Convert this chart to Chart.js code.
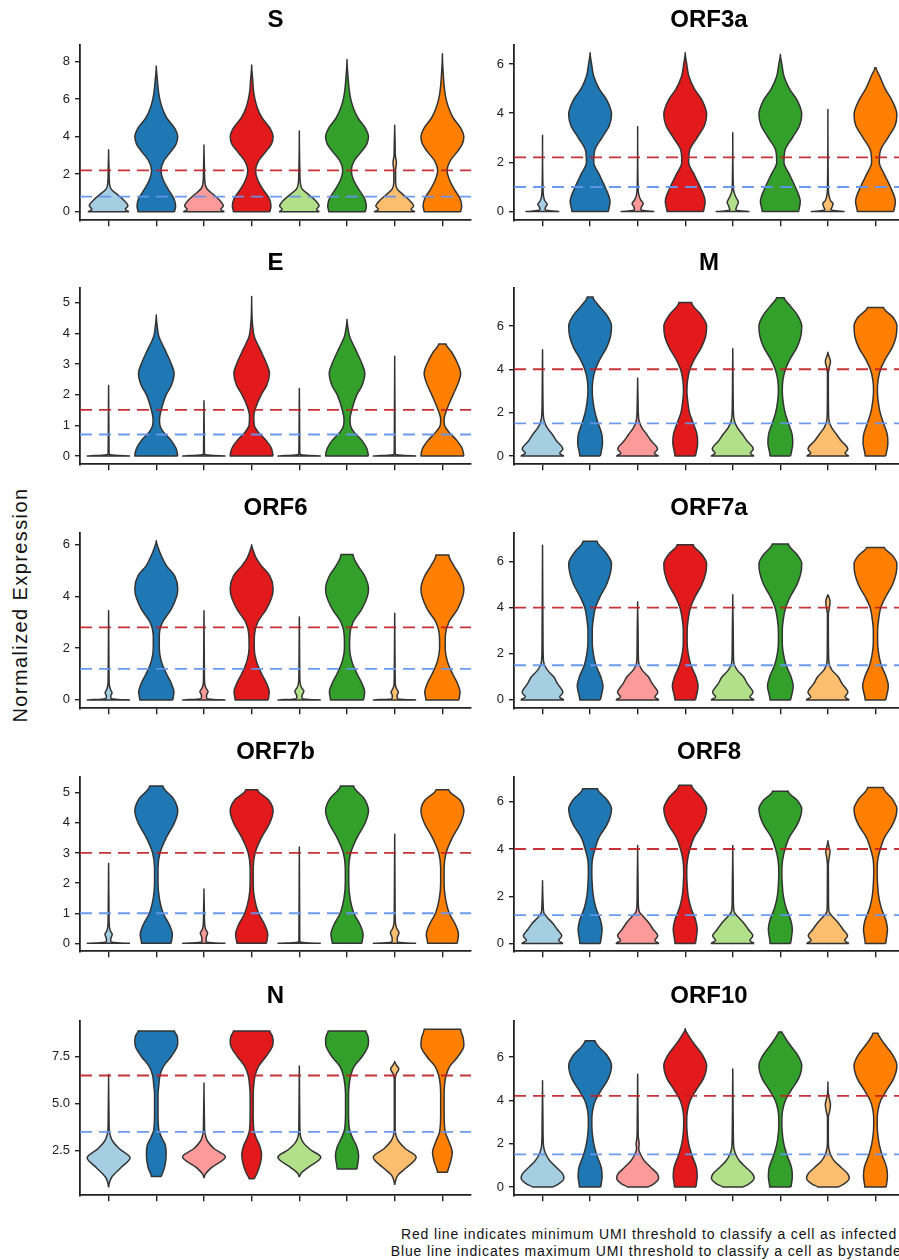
<!DOCTYPE html>
<html>
<head>
<meta charset="utf-8">
<title>Viral gene expression violins</title>
<script src="https://cdn.jsdelivr.net/npm/chart.js@4.4.1/dist/chart.umd.min.js"></script>
<style>
  body { margin: 0; width: 899px; height: 1260px; overflow: hidden; background: #fff; position: relative;
         font-family: "Liberation Sans", Arial, sans-serif; }
  canvas { position: absolute; }
  #ylab { position: absolute; left: 20px; top: 605px; transform: translate(-50%, -50%) rotate(-90deg);
          white-space: nowrap; font-size: 20px; letter-spacing: 1.4px; color: #111; }
  #note { position: absolute; left: 149px; width: 1000px; top: 1226px; text-align: center;
          font-size: 14px; line-height: 16.5px; letter-spacing: 0.85px; color: #111; white-space: nowrap; }
</style>
</head>
<body>
<div id="ylab">Normalized Expression</div>
<div id="note">Red line indicates minimum UMI threshold to classify a cell as infected<br>Blue line indicates maximum UMI threshold to classify a cell as bystander</div>
<script>
var genes = ['S', 'ORF3a', 'E', 'M', 'ORF6', 'ORF7a', 'ORF7b', 'ORF8', 'N', 'ORF10'];
var groupColors = ['#a6cee3', '#1f78b4', '#fb9a99', '#e31a1c', '#b2df8a', '#33a02c', '#fdbf6f', '#ff7f00'];
var yLimits = [[-0.45, 8.87], [-0.35, 6.77], [-0.27, 5.48], [-0.38, 7.75], [-0.32, 6.45],
               [-0.36, 7.23], [-0.26, 5.52], [-0.33, 7.05], [0.13, 9.4], [-0.38, 7.66]];
var yTicks = [['0', '2', '4', '6', '8'], ['0', '2', '4', '6'], ['0', '1', '2', '3', '4', '5'], ['0', '2', '4', '6'],
              ['0', '2', '4', '6'], ['0', '2', '4', '6'], ['0', '1', '2', '3', '4', '5'], ['0', '2', '4', '6'],
              ['2.5', '5.0', '7.5'], ['0', '2', '4', '6']];
var redLine = [2.2, 2.2, 1.5, 4, 2.8, 4, 3, 4, 6.5, 4.2];
var blueLine = [0.8, 1.0, 0.7, 1.5, 1.2, 1.5, 1, 1.2, 3.5, 1.5];

// violin outlines: [value, relative half width] from bottom to top, one list per group
var violinS = [
  [[0,0.95],[0.12,0.78],[0.32,0.9],[0.6,0.72],[0.9,0.42],[1.2,0.12],[1.5,0.04],[2.2,0.02],[3.3,0]],
  [[0,0.85],[0.3,0.9],[0.7,0.82],[1.2,0.55],[1.7,0.32],[2.2,0.22],[2.7,0.35],[3.2,0.68],[3.6,0.92],[4.0,1.0],[4.4,0.88],[5.0,0.48],[5.5,0.28],[6.0,0.16],[6.5,0.09],[7.0,0.05],[7.75,0]],
  [[0,0.95],[0.12,0.78],[0.3,0.9],[0.6,0.74],[0.9,0.45],[1.25,0.12],[1.6,0.04],[2.3,0.02],[3.55,0]],
  [[0,0.85],[0.3,0.9],[0.7,0.82],[1.2,0.52],[1.7,0.28],[2.2,0.18],[2.7,0.32],[3.2,0.66],[3.6,0.92],[4.0,1.0],[4.4,0.88],[5.0,0.48],[5.5,0.27],[6.0,0.15],[6.5,0.08],[7.0,0.05],[7.8,0]],
  [[0,0.93],[0.12,0.8],[0.3,0.92],[0.6,0.75],[0.9,0.45],[1.2,0.14],[1.5,0.05],[2.3,0.02],[4.3,0]],
  [[0,0.85],[0.3,0.9],[0.7,0.82],[1.2,0.54],[1.7,0.3],[2.2,0.2],[2.7,0.33],[3.2,0.67],[3.6,0.92],[4.0,1.0],[4.4,0.88],[5.0,0.5],[5.5,0.3],[6.0,0.17],[6.5,0.1],[7.0,0.06],[8.1,0]],
  [[0,0.95],[0.12,0.76],[0.3,0.88],[0.6,0.7],[0.9,0.4],[1.2,0.12],[1.6,0.04],[2.2,0.04],[2.6,0.08],[3.0,0.03],[3.6,0.02],[4.6,0]],
  [[0,0.85],[0.3,0.9],[0.7,0.82],[1.2,0.55],[1.7,0.33],[2.2,0.22],[2.7,0.36],[3.2,0.7],[3.6,0.93],[4.0,1.0],[4.4,0.88],[5.0,0.5],[5.5,0.3],[6.0,0.17],[6.5,0.1],[7.0,0.06],[8.4,0]]
];
var violinORF3a = [
  [[0,0.78],[0.03,0.35],[0.08,0.12],[0.18,0.14],[0.3,0.22],[0.42,0.12],[0.6,0.05],[1.0,0.02],[3.1,0]],
  [[0,0.85],[0.4,0.93],[1.0,0.7],[1.5,0.43],[2.0,0.17],[2.5,0.22],[3.0,0.55],[3.5,0.9],[3.95,1.0],[4.5,0.8],[5.0,0.42],[5.5,0.17],[6.0,0.07],[6.45,0]],
  [[0,0.78],[0.03,0.35],[0.08,0.15],[0.2,0.18],[0.33,0.26],[0.48,0.14],[0.7,0.05],[1.0,0.02],[3.45,0]],
  [[0,0.85],[0.4,0.93],[1.0,0.7],[1.5,0.42],[2.0,0.16],[2.5,0.21],[3.0,0.55],[3.5,0.9],[3.95,1.0],[4.5,0.8],[5.0,0.42],[5.5,0.17],[6.0,0.07],[6.45,0]],
  [[0,0.78],[0.03,0.3],[0.08,0.14],[0.2,0.18],[0.38,0.26],[0.6,0.14],[0.85,0.04],[1.2,0.02],[3.2,0]],
  [[0,0.85],[0.4,0.93],[1.0,0.7],[1.5,0.43],[2.0,0.17],[2.5,0.22],[3.0,0.56],[3.5,0.9],[3.95,1.0],[4.5,0.8],[5.0,0.42],[5.5,0.17],[6.0,0.07],[6.38,0]],
  [[0,0.78],[0.03,0.35],[0.08,0.14],[0.2,0.2],[0.32,0.24],[0.45,0.12],[0.7,0.04],[1.0,0.02],[4.15,0]],
  [[0,0.85],[0.4,0.93],[1.0,0.7],[1.5,0.42],[2.0,0.18],[2.5,0.24],[3.0,0.58],[3.5,0.92],[3.95,1.0],[4.5,0.78],[5.0,0.45],[5.5,0.2],[5.85,0.03]]
];
var violinE = [
  [[0,1.0],[0.02,0.3],[0.05,0.03],[0.2,0.02],[2.3,0]],
  [[0,1.0],[0.25,0.92],[0.5,0.7],[0.8,0.31],[1.0,0.17],[1.2,0.15],[1.5,0.23],[2.0,0.46],[2.3,0.7],[2.7,0.83],[3.0,0.7],[3.5,0.38],[3.9,0.12],[4.2,0.05],[4.6,0]],
  [[0,1.0],[0.02,0.3],[0.05,0.03],[0.2,0.02],[1.8,0]],
  [[0,1.0],[0.25,0.92],[0.5,0.68],[0.8,0.28],[1.0,0.12],[1.3,0.1],[1.6,0.2],[2.0,0.45],[2.3,0.7],[2.7,0.83],[3.0,0.7],[3.5,0.38],[3.9,0.12],[4.3,0.04],[5.2,0]],
  [[0,1.0],[0.02,0.3],[0.05,0.03],[0.2,0.02],[2.2,0]],
  [[0,1.0],[0.25,0.92],[0.5,0.7],[0.8,0.3],[1.0,0.16],[1.2,0.14],[1.5,0.22],[2.0,0.46],[2.3,0.7],[2.7,0.83],[3.0,0.7],[3.5,0.38],[3.9,0.12],[4.15,0.05],[4.45,0]],
  [[0,1.0],[0.02,0.3],[0.05,0.03],[0.2,0.02],[3.25,0]],
  [[0,1.0],[0.25,0.92],[0.5,0.68],[0.8,0.28],[1.0,0.1],[1.2,0.08],[1.5,0.2],[2.0,0.5],[2.4,0.75],[2.7,0.85],[3.0,0.72],[3.4,0.42],[3.65,0.17]]
];
var violinM = [
  [[0,1.0],[0.12,0.8],[0.32,0.95],[0.7,0.65],[1.0,0.45],[1.3,0.22],[1.6,0.08],[2.0,0.03],[2.5,0.02],[4.9,0]],
  [[0,0.48],[0.6,0.58],[1.0,0.55],[1.5,0.38],[2.0,0.23],[2.5,0.14],[3.0,0.1],[3.5,0.13],[4.0,0.25],[4.5,0.48],[5.0,0.77],[5.5,0.95],[6.0,1.0],[6.5,0.78],[7.0,0.35],[7.34,0.14]],
  [[0,0.98],[0.12,0.78],[0.32,0.93],[0.7,0.63],[1.0,0.42],[1.3,0.2],[1.6,0.07],[2.0,0.03],[2.5,0.02],[3.6,0]],
  [[0,0.48],[0.6,0.58],[1.0,0.55],[1.5,0.38],[2.0,0.2],[2.5,0.12],[3.0,0.08],[3.5,0.11],[4.0,0.22],[4.5,0.45],[5.0,0.75],[5.5,0.95],[6.0,1.0],[6.5,0.75],[7.08,0.3]],
  [[0,1.0],[0.12,0.82],[0.32,0.96],[0.7,0.66],[1.0,0.45],[1.3,0.22],[1.6,0.08],[2.0,0.03],[2.5,0.02],[4.95,0]],
  [[0,0.48],[0.6,0.58],[1.0,0.55],[1.5,0.38],[2.0,0.22],[2.5,0.13],[3.0,0.09],[3.5,0.12],[4.0,0.24],[4.5,0.47],[5.0,0.77],[5.5,0.95],[6.0,1.0],[6.5,0.8],[7.0,0.4],[7.3,0.18]],
  [[0,0.98],[0.12,0.8],[0.32,0.93],[0.7,0.62],[1.0,0.4],[1.3,0.18],[1.6,0.06],[2.0,0.03],[3.8,0.02],[4.1,0.06],[4.35,0.12],[4.6,0.05],[4.78,0]],
  [[0,0.48],[0.6,0.58],[1.0,0.55],[1.5,0.38],[2.0,0.22],[2.5,0.13],[3.0,0.09],[3.5,0.12],[4.0,0.24],[4.5,0.48],[5.0,0.78],[5.5,0.96],[6.0,1.0],[6.4,0.82],[6.85,0.38]]
];
var violinORF6 = [
  [[0,1.0],[0.02,0.45],[0.06,0.12],[0.15,0.1],[0.28,0.16],[0.4,0.09],[0.6,0.03],[1.0,0.02],[3.45,0]],
  [[0,0.77],[0.3,0.82],[0.7,0.67],[1.0,0.48],[1.5,0.23],[2.0,0.14],[2.5,0.14],[3.0,0.29],[3.5,0.69],[4.0,0.95],[4.3,1.0],[4.8,0.85],[5.2,0.46],[5.6,0.22],[5.9,0.08],[6.15,0]],
  [[0,1.0],[0.02,0.45],[0.06,0.12],[0.18,0.12],[0.33,0.19],[0.46,0.09],[0.65,0.03],[1.0,0.02],[3.45,0]],
  [[0,0.77],[0.3,0.82],[0.7,0.66],[1.0,0.47],[1.5,0.22],[2.0,0.12],[2.5,0.13],[3.0,0.28],[3.5,0.68],[4.0,0.95],[4.3,1.0],[4.8,0.84],[5.2,0.44],[5.5,0.2],[5.8,0.06],[6.0,0]],
  [[0,1.0],[0.02,0.45],[0.06,0.12],[0.18,0.13],[0.34,0.21],[0.48,0.1],[0.7,0.03],[1.0,0.02],[3.2,0]],
  [[0,0.77],[0.3,0.82],[0.7,0.66],[1.0,0.47],[1.5,0.22],[2.0,0.12],[2.5,0.13],[3.0,0.28],[3.5,0.68],[4.0,0.95],[4.3,1.0],[4.8,0.82],[5.2,0.5],[5.62,0.28]],
  [[0,1.0],[0.02,0.45],[0.06,0.12],[0.16,0.11],[0.3,0.17],[0.42,0.09],[0.6,0.03],[1.0,0.02],[3.35,0]],
  [[0,0.77],[0.3,0.82],[0.7,0.67],[1.0,0.48],[1.5,0.23],[2.0,0.13],[2.5,0.14],[3.0,0.3],[3.5,0.7],[4.0,0.95],[4.3,1.0],[4.8,0.82],[5.2,0.52],[5.6,0.3]]
];
var violinORF7a = [
  [[0,1.0],[0.12,0.8],[0.32,0.95],[0.7,0.7],[1.0,0.52],[1.3,0.22],[1.6,0.06],[2.0,0.03],[3.0,0.02],[6.7,0]],
  [[0,0.48],[0.6,0.6],[1.0,0.5],[1.5,0.27],[2.0,0.15],[2.5,0.1],[3.0,0.1],[3.5,0.15],[4.0,0.25],[4.5,0.48],[5.0,0.77],[5.5,0.95],[5.9,1.0],[6.4,0.72],[6.87,0.33]],
  [[0,1.0],[0.12,0.8],[0.32,0.94],[0.7,0.68],[1.0,0.5],[1.3,0.2],[1.6,0.05],[2.0,0.03],[3.0,0.02],[4.25,0]],
  [[0,0.48],[0.6,0.6],[1.0,0.5],[1.5,0.27],[2.0,0.14],[2.5,0.09],[3.0,0.09],[3.5,0.14],[4.0,0.25],[4.5,0.48],[5.0,0.78],[5.5,0.96],[5.9,1.0],[6.3,0.78],[6.72,0.38]],
  [[0,1.0],[0.12,0.8],[0.32,0.94],[0.7,0.68],[1.0,0.5],[1.3,0.2],[1.6,0.05],[2.0,0.03],[3.0,0.02],[4.55,0]],
  [[0,0.48],[0.6,0.6],[1.0,0.5],[1.5,0.27],[2.0,0.14],[2.5,0.09],[3.0,0.09],[3.5,0.14],[4.0,0.25],[4.5,0.48],[5.0,0.78],[5.5,0.96],[5.9,1.0],[6.3,0.78],[6.75,0.38]],
  [[0,1.0],[0.12,0.8],[0.32,0.93],[0.7,0.66],[1.0,0.48],[1.3,0.18],[1.6,0.05],[2.0,0.03],[3.7,0.02],[4.0,0.07],[4.25,0.1],[4.45,0.05],[4.55,0]],
  [[0,0.48],[0.6,0.6],[1.0,0.5],[1.5,0.27],[2.0,0.15],[2.5,0.1],[3.0,0.1],[3.5,0.15],[4.0,0.25],[4.5,0.5],[5.0,0.8],[5.5,0.97],[5.9,1.0],[6.25,0.8],[6.6,0.42]]
];
var violinORF7b = [
  [[0,1.0],[0.02,0.4],[0.06,0.1],[0.15,0.1],[0.3,0.17],[0.42,0.08],[0.6,0.03],[1.0,0.02],[2.65,0]],
  [[0,0.69],[0.3,0.75],[0.6,0.62],[1.0,0.32],[1.5,0.14],[2.0,0.08],[2.5,0.08],[3.0,0.17],[3.5,0.46],[4.0,0.85],[4.4,1.0],[4.8,0.8],[5.22,0.31]],
  [[0,1.0],[0.02,0.4],[0.06,0.1],[0.18,0.1],[0.34,0.17],[0.46,0.08],[0.65,0.03],[1.0,0.02],[1.8,0]],
  [[0,0.69],[0.3,0.75],[0.6,0.62],[1.0,0.32],[1.5,0.13],[2.0,0.07],[2.5,0.07],[3.0,0.16],[3.5,0.45],[4.0,0.85],[4.4,1.0],[4.75,0.8],[5.1,0.28]],
  [[0,1.0],[0.02,0.3],[0.05,0.03],[0.2,0.02],[3.2,0]],
  [[0,0.69],[0.3,0.75],[0.6,0.62],[1.0,0.32],[1.5,0.14],[2.0,0.08],[2.5,0.08],[3.0,0.17],[3.5,0.46],[4.0,0.85],[4.4,1.0],[4.8,0.8],[5.22,0.31]],
  [[0,1.0],[0.02,0.4],[0.06,0.12],[0.18,0.12],[0.35,0.2],[0.5,0.09],[0.7,0.03],[1.0,0.02],[3.62,0]],
  [[0,0.69],[0.3,0.75],[0.6,0.62],[1.0,0.32],[1.5,0.14],[2.0,0.08],[2.5,0.08],[3.0,0.17],[3.5,0.46],[4.0,0.85],[4.4,1.0],[4.75,0.82],[5.1,0.3]]
];
var violinORF8 = [
  [[0,0.96],[0.12,0.75],[0.32,0.9],[0.6,0.68],[0.85,0.48],[1.1,0.22],[1.3,0.06],[1.6,0.03],[2.65,0]],
  [[0,0.48],[0.6,0.56],[1.0,0.48],[1.5,0.27],[2.0,0.15],[2.5,0.1],[3.0,0.08],[3.5,0.1],[4.0,0.23],[4.5,0.42],[5.0,0.77],[5.4,0.95],[5.7,1.0],[6.1,0.78],[6.55,0.35]],
  [[0,1.0],[0.12,0.8],[0.32,0.94],[0.6,0.72],[0.9,0.5],[1.15,0.25],[1.35,0.07],[1.7,0.03],[2.5,0.02],[4.15,0]],
  [[0,0.48],[0.6,0.56],[1.0,0.48],[1.5,0.27],[2.0,0.14],[2.5,0.09],[3.0,0.07],[3.5,0.1],[4.0,0.22],[4.5,0.42],[5.0,0.77],[5.4,0.95],[5.7,1.0],[6.15,0.78],[6.7,0.3]],
  [[0,1.0],[0.12,0.8],[0.32,0.94],[0.6,0.72],[0.9,0.48],[1.15,0.22],[1.35,0.06],[1.7,0.03],[2.5,0.02],[4.15,0]],
  [[0,0.48],[0.6,0.56],[1.0,0.48],[1.5,0.27],[2.0,0.14],[2.5,0.09],[3.0,0.07],[3.5,0.1],[4.0,0.22],[4.5,0.42],[5.0,0.77],[5.4,0.95],[5.7,1.0],[6.05,0.8],[6.45,0.37]],
  [[0,0.98],[0.12,0.78],[0.32,0.92],[0.6,0.7],[0.9,0.46],[1.15,0.2],[1.35,0.05],[1.7,0.03],[3.3,0.02],[3.65,0.06],[3.9,0.1],[4.1,0.05],[4.35,0]],
  [[0,0.48],[0.6,0.56],[1.0,0.48],[1.5,0.27],[2.0,0.15],[2.5,0.1],[3.0,0.08],[3.5,0.1],[4.0,0.23],[4.5,0.43],[5.0,0.78],[5.4,0.96],[5.7,1.0],[6.1,0.8],[6.6,0.37]]
];
var violinN = [
  [[0.55,0],[0.8,0.04],[1.1,0.15],[1.6,0.58],[2.12,1.0],[2.6,0.5],[3.0,0.19],[3.3,0.08],[3.6,0.03],[4.2,0.02],[6.55,0]],
  [[1.12,0.23],[1.6,0.38],[2.3,0.46],[2.8,0.42],[3.2,0.25],[3.6,0.12],[4.5,0.08],[5.5,0.08],[6.0,0.12],[6.5,0.17],[7.0,0.34],[7.5,0.69],[8.0,0.96],[8.3,1.0],[8.6,0.97],[8.87,0.85]],
  [[1.05,0],[1.25,0.06],[1.6,0.35],[2.18,1.0],[2.6,0.48],[3.0,0.17],[3.3,0.07],[3.6,0.03],[4.2,0.02],[6.1,0]],
  [[1.0,0.12],[1.3,0.25],[1.8,0.4],[2.3,0.46],[2.8,0.36],[3.2,0.2],[3.6,0.1],[4.5,0.07],[5.5,0.07],[6.0,0.1],[6.5,0.16],[7.0,0.33],[7.5,0.66],[8.0,0.95],[8.3,1.0],[8.6,0.96],[8.87,0.85]],
  [[1.1,0],[1.3,0.08],[1.6,0.4],[2.15,1.0],[2.55,0.52],[2.9,0.2],[3.2,0.07],[3.5,0.03],[4.2,0.02],[7.0,0]],
  [[1.52,0.46],[2.2,0.54],[2.7,0.46],[3.2,0.25],[3.6,0.12],[4.5,0.07],[5.5,0.07],[6.0,0.1],[6.5,0.17],[7.0,0.34],[7.5,0.7],[8.0,0.96],[8.3,1.0],[8.6,0.97],[8.87,0.88]],
  [[0.68,0],[0.9,0.04],[1.2,0.15],[1.6,0.55],[2.15,1.0],[2.6,0.5],[3.0,0.18],[3.3,0.06],[3.7,0.02],[6.3,0.02],[6.6,0.08],[6.85,0.19],[7.05,0.08],[7.25,0]],
  [[1.35,0.23],[1.9,0.38],[2.4,0.46],[3.0,0.3],[3.5,0.13],[4.5,0.08],[5.5,0.08],[6.0,0.1],[6.5,0.17],[7.0,0.35],[7.5,0.72],[8.1,1.0],[8.5,0.97],[8.96,0.85]]
];
var violinORF10 = [
  [[0,0.48],[0.12,0.72],[0.4,1.0],[0.6,0.94],[0.9,0.65],[1.2,0.35],[1.5,0.16],[1.8,0.06],[2.2,0.03],[3.0,0.02],[4.9,0]],
  [[0,0.5],[0.5,0.56],[0.9,0.52],[1.5,0.3],[2.0,0.17],[2.5,0.1],[3.0,0.08],[3.5,0.11],[4.0,0.25],[4.5,0.54],[5.0,0.85],[5.6,1.0],[6.1,0.77],[6.5,0.38],[6.75,0.23]],
  [[0,0.48],[0.12,0.72],[0.4,0.98],[0.6,0.92],[0.9,0.62],[1.2,0.32],[1.5,0.14],[1.75,0.05],[2.0,0.07],[2.3,0.03],[3.0,0.02],[5.2,0]],
  [[0,0.5],[0.5,0.56],[0.9,0.52],[1.5,0.3],[2.0,0.16],[2.5,0.09],[3.0,0.07],[3.5,0.1],[4.0,0.24],[4.5,0.53],[5.0,0.85],[5.6,1.0],[6.1,0.8],[6.6,0.42],[7.0,0.15],[7.3,0]],
  [[0,0.48],[0.12,0.72],[0.4,1.0],[0.6,0.93],[0.9,0.62],[1.2,0.32],[1.5,0.14],[1.8,0.05],[2.2,0.03],[3.0,0.02],[5.45,0]],
  [[0,0.5],[0.5,0.56],[0.9,0.52],[1.5,0.3],[2.0,0.16],[2.5,0.09],[3.0,0.07],[3.5,0.1],[4.0,0.24],[4.5,0.53],[5.0,0.85],[5.6,1.0],[6.1,0.8],[6.6,0.42],[7.0,0.16],[7.15,0.08]],
  [[0,0.48],[0.12,0.72],[0.4,1.0],[0.6,0.93],[0.9,0.62],[1.2,0.3],[1.5,0.12],[1.8,0.04],[2.2,0.02],[3.2,0.02],[3.5,0.08],[3.8,0.12],[4.1,0.06],[4.3,0.02],[4.85,0]],
  [[0,0.5],[0.5,0.56],[0.9,0.52],[1.5,0.3],[2.0,0.17],[2.5,0.1],[3.0,0.08],[3.5,0.11],[4.0,0.25],[4.5,0.54],[5.0,0.85],[5.6,1.0],[6.1,0.8],[6.6,0.42],[6.95,0.18],[7.1,0.12]]
];
var violins = [violinS, violinORF3a, violinE, violinM, violinORF6, violinORF7a, violinORF7b, violinORF8, violinN, violinORF10];

Chart.defaults.font.family = '"Liberation Sans", Arial, sans-serif';
Chart.defaults.color = '#222';

var HALF = 0.45;            // half of the violin width, in category units
var XMIN = -0.6, XMAX = 7.6;
var axisTop = [45, 288, 533, 777, 1021];
var axisBottom = [223, 467, 711, 954, 1198];

// outline of one violin: up the right side, down the left side, back to start
function outline(knots, center) {
  var right = knots.map(function (k) { return {x: center + k[1] * HALF, y: k[0]}; });
  var left = knots.slice().reverse().map(function (k) { return {x: center - k[1] * HALF, y: k[0]}; });
  if (knots[knots.length - 1][1] === 0) left.shift();
  var pts = right.concat(left);
  if (knots[0][1] !== 0) pts.push({x: right[0].x, y: right[0].y});
  return pts;
}

function makePanel(p) {
  var row = Math.floor(p / 2), col = p % 2;
  var canvas = document.createElement('canvas');
  var left = col === 0 ? 0 : 450;
  var width = col === 0 ? 472 : 455;
  var top = axisTop[row] - 40;
  var height = 40 + (axisBottom[row] - axisTop[row]) + 10;
  canvas.width = width;
  canvas.height = height;
  canvas.style.left = left + 'px';
  canvas.style.top = top + 'px';
  document.body.appendChild(canvas);

  var datasets = [];
  datasets.push({
    data: [{x: XMIN, y: redLine[p]}, {x: XMAX, y: redLine[p]}],
    borderColor: 'rgba(192, 30, 36, 0.9)', borderWidth: 1.8, borderDash: [12, 7],
    pointRadius: 0, fill: false, order: 0
  });
  datasets.push({
    data: [{x: XMIN, y: blueLine[p]}, {x: XMAX, y: blueLine[p]}],
    borderColor: 'rgba(100, 149, 237, 0.95)', borderWidth: 1.8, borderDash: [12, 7],
    pointRadius: 0, fill: false, order: 0
  });
  violins[p].forEach(function (knots, g) {
    datasets.push({
      data: outline(knots, g),
      indexAxis: 'y',
      cubicInterpolationMode: 'monotone',
      backgroundColor: groupColors[g],
      borderColor: '#333',
      borderWidth: 1.5,
      borderJoinStyle: 'round',
      fill: 'shape',
      pointRadius: 0,
      order: 1
    });
  });

  var yLabelWidth = col === 0 ? 80 : 64;
  new Chart(canvas, {
    type: 'line',
    data: {datasets: datasets},
    options: {
      responsive: false,
      animation: false,
      events: [],
      layout: {padding: {left: 0, right: 1, top: 0, bottom: 0}},
      plugins: {
        legend: {display: false},
        tooltip: {enabled: false},
        title: {
          display: true, text: genes[p], fullSize: false, color: '#000',
          font: {size: 24, weight: 'bold', lineHeight: 1.2},
          padding: {top: 1.1, bottom: 10.1}
        }
      },
      scales: {
        x: {
          type: 'linear', min: XMIN, max: XMAX,
          afterBuildTicks: function (scale) {
            scale.ticks = groupColors.map(function (c, i) { return {value: i}; });
          },
          afterFit: function (scale) { scale.height = 10; },
          ticks: {callback: function () { return ''; }},
          grid: {drawOnChartArea: false, drawTicks: true, tickLength: 6, color: '#222', lineWidth: 1.4},
          border: {display: true, color: '#222', width: 1.8}
        },
        y: {
          type: 'linear', min: yLimits[p][0], max: yLimits[p][1],
          afterBuildTicks: function (scale) {
            scale.ticks = yTicks[p].map(function (s) { return {value: parseFloat(s)}; });
          },
          afterFit: function (scale) { scale.width = yLabelWidth; },
          ticks: {
            padding: 5, font: {size: 13}, color: '#222',
            callback: function (v, i) { return yTicks[p][i]; }
          },
          grid: {drawOnChartArea: false, drawTicks: true, tickLength: 5, color: '#222', lineWidth: 1.4},
          border: {display: true, color: '#222', width: 1.8}
        }
      }
    }
  });
}

for (var p = 0; p < genes.length; p++) {
  makePanel(p);
}
</script>
</body>
</html>
